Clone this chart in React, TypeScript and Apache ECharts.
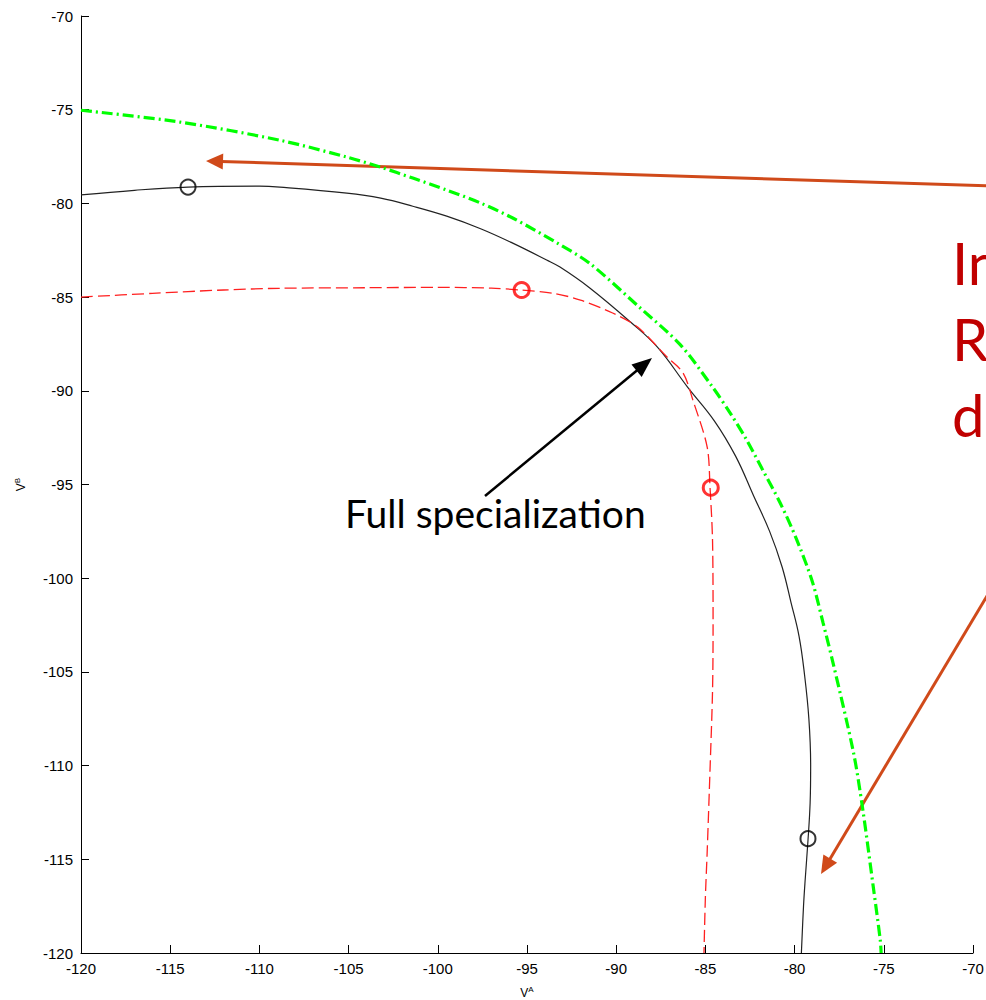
import React, { useEffect, useRef } from "react";
import * as echarts from "echarts";

const xTicks = [-120, -115, -110, -105, -100, -95, -90, -85, -80, -75, -70];
const yTicks = [-120, -115, -110, -105, -100, -95, -90, -85, -80, -75, -70];

const blackCurve: [number, number][] = [
  [-120, -79.55], [-117, -79.3], [-114, -79.13], [-110, -79.08], [-108.85, -79.13],
  [-105.1, -79.45], [-103.2, -79.72], [-101.4, -80.15], [-99.5, -80.68], [-97.6, -81.35],
  [-95.8, -82.12], [-93.9, -83.02], [-93.15, -83.4], [-91.5, -84.5], [-89.2, -86.33],
  [-87.7, -87.66], [-86.0, -89.8], [-84.5, -91.6], [-83.3, -93.5], [-82.3, -95.6],
  [-81.4, -97.5], [-80.7, -99.4], [-80.2, -101.3], [-79.75, -103.1], [-79.45, -105.1],
  [-79.2, -107.5], [-79.1, -110], [-79.13, -112], [-79.25, -114], [-79.4, -116],
  [-79.5, -117.5], [-79.62, -120],
];
const blackMarkers: [number, number][] = [[-114, -79.13], [-79.25, -113.9]];

const redCurve: [number, number][] = [
  [-120, -85.0], [-116, -84.8], [-112, -84.62], [-108.9, -84.53], [-104, -84.5],
  [-100, -84.48], [-97, -84.52], [-95.4, -84.62], [-93.5, -84.8], [-92.0, -85.16],
  [-90.2, -85.85], [-88.8, -86.6], [-87.15, -88.2], [-86.25, -89.05], [-85.7, -90.5],
  [-84.9, -93.0], [-84.74, -95.17], [-84.6, -98], [-84.57, -102.6], [-84.6, -106],
  [-84.74, -110.2], [-84.9, -114.6], [-85.0, -117], [-85.08, -120],
];
const redMarkers: [number, number][] = [[-95.3, -84.62], [-84.7, -95.17]];

const greenCurve: [number, number][] = [
  [-120, -75.03], [-114.45, -75.66], [-108.85, -76.63], [-105.1, -77.53], [-103.2, -78.07],
  [-101.4, -78.65], [-99.5, -79.29], [-97.6, -79.98], [-95.8, -80.78], [-93.3, -82.12],
  [-91.5, -83.19], [-88.7, -85.54], [-86.4, -87.55], [-84.6, -89.8], [-83.6, -91.2],
  [-82.7, -92.6], [-81.8, -94.2], [-80.8, -96.0], [-79.9, -97.9], [-79.0, -100.2],
  [-78.4, -102.4], [-77.85, -104.5], [-76.7, -109.3], [-76.2, -112.2], [-75.6, -116.4],
  [-75.2, -119.3], [-75.15, -120],
];

const annotationLabel = "Full specialization";
const sideLines = ["In", "Re", "de"];

function arrow(
  x1: number, y1: number, x2: number, y2: number,
  color: string, width: number, headLen: number, headHalf: number
) {
  const dx = x2 - x1;
  const dy = y2 - y1;
  const len = Math.sqrt(dx * dx + dy * dy);
  const ux = dx / len;
  const uy = dy / len;
  const bx = x2 - ux * headLen;
  const by = y2 - uy * headLen;
  const px = -uy;
  const py = ux;
  return [
    {
      type: "line",
      shape: { x1, y1, x2: bx + ux * 2, y2: by + uy * 2 },
      style: { stroke: color, lineWidth: width },
      silent: true,
    },
    {
      type: "polygon",
      shape: {
        points: [
          [x2, y2],
          [bx + px * headHalf, by + py * headHalf],
          [bx - px * headHalf, by - py * headHalf],
        ],
      },
      style: { fill: color },
      silent: true,
    },
  ];
}

export default function App() {
  const ref = useRef<HTMLDivElement>(null);
  useEffect(() => {
    document.body.style.margin = "0";
    if (!ref.current) return;
    const chart = echarts.init(ref.current, undefined, { renderer: "svg" });
    const axisLabel = { color: "#000", fontSize: 15, fontFamily: "Liberation Sans, Arial", margin: 8 };
    const orange = "#D04A1A";
    const nameRich = () => ({
      rich: {
        a: { fontSize: 12, color: "#000", fontFamily: "Liberation Sans, Arial" },
        b: { fontSize: 8, color: "#000", fontFamily: "Liberation Sans, Arial", padding: [0, 0, 7, 0] },
      },
    });
    const option: any = {
      animation: false,
      backgroundColor: "#fff",
      grid: { left: 81, right: 13, top: 16, bottom: 47, containLabel: false, outerBoundsMode: "none" },
      xAxis: {
        type: "value",
        min: -120,
        max: -70,
        interval: 5,
        name: "{a|V}{b|A}",
        nameLocation: "middle",
        nameGap: 32,
        nameTextStyle: nameRich(),
        axisLine: { show: true, onZero: false, lineStyle: { color: "#000", width: 1 } },
        axisTick: { show: true, inside: true, length: 8, lineStyle: { color: "#000" } },
        axisLabel: { ...axisLabel, formatter: (v: number) => (xTicks.includes(v) ? String(v) : "") },
        splitLine: { show: false },
      },
      yAxis: {
        type: "value",
        min: -120,
        max: -70,
        interval: 5,
        name: "{a|V}{b|B}",
        nameLocation: "middle",
        nameGap: 53,
        nameTextStyle: nameRich(),
        axisLine: { show: true, onZero: false, lineStyle: { color: "#000", width: 1 } },
        axisTick: { show: true, inside: true, length: 8, lineStyle: { color: "#000" } },
        axisLabel: { ...axisLabel, formatter: (v: number) => (yTicks.includes(v) ? String(v) : "") },
        splitLine: { show: false },
      },
      series: [
        {
          type: "line",
          data: greenCurve,
          showSymbol: false,
          smooth: 0.3,
          lineStyle: { color: "#00FF00", width: 3.2, type: [11, 4, 2, 4] },
          z: 2,
        },
        {
          type: "line",
          data: blackCurve,
          showSymbol: false,
          smooth: 0.4,
          lineStyle: { color: "#222", width: 1.2 },
          z: 3,
        },
        {
          type: "line",
          data: redCurve,
          showSymbol: false,
          smooth: 0.3,
          lineStyle: { color: "#FF2020", width: 1.3, type: [12, 5] },
          z: 3,
        },
        {
          type: "scatter",
          data: blackMarkers,
          symbol: "circle",
          symbolSize: 15,
          itemStyle: { color: "rgba(0,0,0,0)", borderColor: "#000", borderWidth: 2 },
          z: 4,
        },
        {
          type: "scatter",
          data: redMarkers,
          symbol: "circle",
          symbolSize: 15,
          itemStyle: { color: "rgba(0,0,0,0)", borderColor: "#FF0000", borderWidth: 3 },
          z: 4,
        },
      ],
      graphic: [
        ...arrow(990, 186, 206, 161, orange, 3, 17, 8),
        ...arrow(990, 591, 821, 874, orange, 3, 18, 8),
        ...arrow(485, 496, 652, 358, "#000", 2.5, 20, 8),
        {
          type: "text",
          x: 345,
          y: 513,
          style: {
            text: annotationLabel,
            fill: "#000",
            fontSize: 39,
            fontFamily: "Lato",
            verticalAlign: "middle",
            align: "left",
          },
          silent: true,
        },
        ...sideLines.map((t, i) => ({
          type: "text",
          x: 952,
          y: 262 + i * 76,
          style: {
            text: t,
            fill: "#C00000",
            fontSize: 58,
            fontFamily: "Lato",
            verticalAlign: "middle",
            align: "left",
          },
          silent: true,
        })),
      ],
    };
    chart.setOption(option);
    return () => chart.dispose();
  }, []);
  return <div ref={ref} style={{ width: 986, height: 1000 }} />;
}
